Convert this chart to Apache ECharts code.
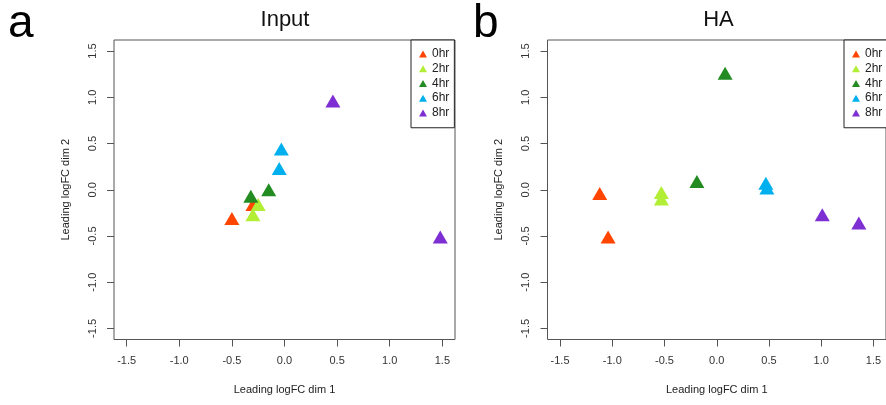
<!DOCTYPE html>
<html>
<head>
<meta charset="utf-8">
<script src="https://cdn.jsdelivr.net/npm/echarts@6/dist/echarts.min.js"></script>
<style>
  html, body { margin: 0; padding: 0; background: #fff; }
  #chart { width: 886px; height: 405px; }
</style>
</head>
<body>
<div id="chart"></div>
<script>
// MDS plot coordinates (leading logFC dim 1, dim 2) per time point
const timePoints = ['0hr', '2hr', '4hr', '6hr', '8hr'];
const timeColors = ['#FF4500', '#B2EE36', '#228B22', '#00B0EE', '#7E2FD3'];

// Panel a: Input
const input0hr = [[-0.50, -0.31], [-0.30, -0.16]];
const input2hr = [[-0.25, -0.16], [-0.30, -0.27]];
const input4hr = [[-0.32, -0.07], [-0.15, 0.00]];
const input6hr = [[-0.03, 0.44], [-0.05, 0.23]];
const input8hr = [[0.46, 0.96], [1.48, -0.51]];

// Panel b: HA
const ha0hr = [[-1.12, -0.04], [-1.04, -0.51]];
const ha2hr = [[-0.53, -0.03], [-0.53, -0.10]];
const ha4hr = [[-0.19, 0.09], [0.08, 1.26]];
const ha6hr = [[0.47, 0.07], [0.48, 0.02]];
const ha8hr = [[1.01, -0.27], [1.36, -0.36]];

const tickValues = [-1.5, -1.0, -0.5, 0.0, 0.5, 1.0, 1.5];
const panelTitles = ['Input', 'HA'];
const panelLetters = ['a', 'b'];
const xName = 'Leading logFC dim 1';
const yName = 'Leading logFC dim 2';

const inputSets = [input0hr, input2hr, input4hr, input6hr, input8hr];
const haSets = [ha0hr, ha2hr, ha4hr, ha6hr, ha8hr];

const FONT = 'Liberation Sans, Arial, sans-serif';
const AX_MIN = -1.62, AX_MAX = 1.62;
const grids = [
  { left: 114, top: 40, width: 341, height: 299.5 },
  { left: 547.5, top: 40, width: 341, height: 299.5 }
];

function makeAxis(idx, isX) {
  return {
    type: 'value',
    gridIndex: idx,
    min: AX_MIN,
    max: AX_MAX,
    position: isX ? 'bottom' : 'left',
    name: isX ? xName : yName,
    nameLocation: 'middle',
    nameGap: isX ? 45 : 43,
    nameTextStyle: { fontFamily: FONT, fontSize: 11, color: '#222' },
    axisLine: { show: false, onZero: false },
    splitLine: { show: false },
    axisTick: {
      show: true, inside: false, length: 7,
      customValues: tickValues,
      lineStyle: { color: '#555', width: 1 }
    },
    axisLabel: {
      show: true,
      customValues: tickValues,
      rotate: isX ? 0 : 90,
      margin: 16,
      fontFamily: FONT, fontSize: 11, color: '#333',
      formatter: v => Number(v).toFixed(1)
    }
  };
}

const series = [];
[inputSets, haSets].forEach((sets, gi) => {
  sets.forEach((pts, si) => {
    series.push({
      name: timePoints[si],
      type: 'scatter',
      xAxisIndex: gi,
      yAxisIndex: gi,
      symbol: 'triangle',
      symbolSize: [15, 13],
      itemStyle: { color: timeColors[si], opacity: 1 },
      emphasis: { disabled: true },
      data: pts
    });
  });
});

function makeLegend(left) {
  return {
    orient: 'vertical',
    left: left,
    top: 40,
    data: timePoints,
    icon: 'triangle',
    itemWidth: 8,
    itemHeight: 7,
    itemGap: 1,
    padding: [7, 5, 8, 8],
    borderColor: '#222',
    borderWidth: 1,
    backgroundColor: '#fff',
    selectedMode: false,
    textStyle: { fontFamily: FONT, fontSize: 12, color: '#222', lineHeight: 13.75, padding: [0, 0, 0, 0] }
  };
}

const chart = echarts.init(document.getElementById('chart'), null, { renderer: 'canvas' });
chart.setOption({
  animation: false,
  backgroundColor: '#fff',
  color: timeColors,
  title: [
    { text: panelTitles[0], left: 285, top: 9, textAlign: 'center', padding: 0,
      textStyle: { fontFamily: FONT, fontSize: 22, fontWeight: 'normal', color: '#111' } },
    { text: panelTitles[1], left: 718.5, top: 9, textAlign: 'center', padding: 0,
      textStyle: { fontFamily: FONT, fontSize: 22, fontWeight: 'normal', color: '#111' } },
    { text: panelLetters[0], left: 8, top: 1, padding: 0,
      textStyle: { fontFamily: FONT, fontSize: 46, fontWeight: 'normal', color: '#000' } },
    { text: panelLetters[1], left: 473, top: 1, padding: 0,
      textStyle: { fontFamily: FONT, fontSize: 46, fontWeight: 'normal', color: '#000' } }
  ],
  legend: [makeLegend(411), makeLegend(844)],
  grid: grids.map(g => Object.assign({ show: true, borderColor: '#555', borderWidth: 1, backgroundColor: 'transparent' }, g)),
  xAxis: [makeAxis(0, true), makeAxis(1, true)],
  yAxis: [makeAxis(0, false), makeAxis(1, false)],
  series: series
});
</script>
</body>
</html>
